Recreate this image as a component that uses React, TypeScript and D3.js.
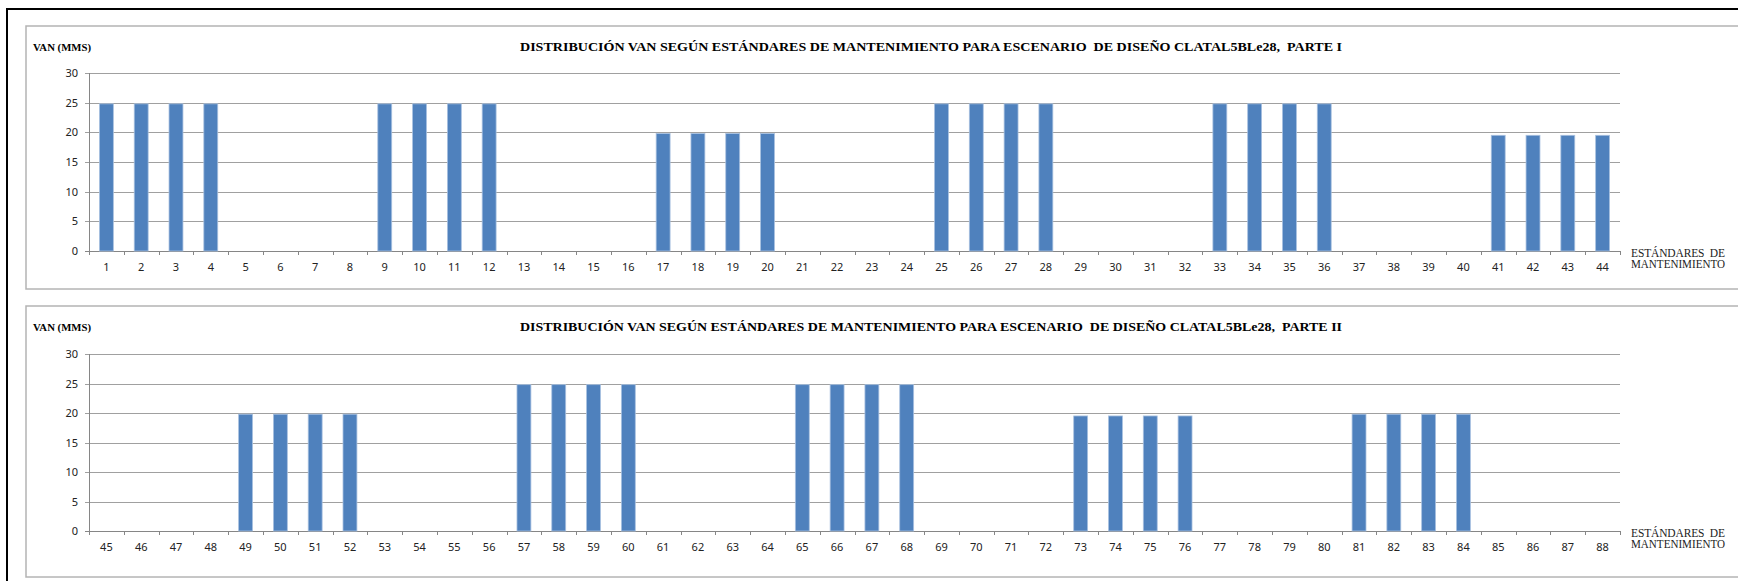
import React from "react";
import * as d3 from "d3";

// Maintenance standards (x categories) for each part
const categoriesPart1: number[] = [
  1, 2, 3, 4, 5, 6, 7, 8, 9, 10, 11, 12, 13, 14, 15, 16, 17, 18, 19, 20, 21, 22,
  23, 24, 25, 26, 27, 28, 29, 30, 31, 32, 33, 34, 35, 36, 37, 38, 39, 40, 41, 42,
  43, 44,
];
const categoriesPart2: number[] = [
  45, 46, 47, 48, 49, 50, 51, 52, 53, 54, 55, 56, 57, 58, 59, 60, 61, 62, 63, 64,
  65, 66, 67, 68, 69, 70, 71, 72, 73, 74, 75, 76, 77, 78, 79, 80, 81, 82, 83, 84,
  85, 86, 87, 88,
];

// VAN (MMS) per standard
const vanPart1: number[] = [
  24.8, 24.8, 24.8, 24.8, 0, 0, 0, 0, 24.8, 24.8, 24.8, 24.8, 0, 0, 0, 0,
  19.8, 19.8, 19.8, 19.8, 0, 0, 0, 0, 24.8, 24.8, 24.8, 24.8, 0, 0, 0, 0,
  24.8, 24.8, 24.8, 24.8, 0, 0, 0, 0, 19.5, 19.5, 19.5, 19.5,
];
const vanPart2: number[] = [
  0, 0, 0, 0, 19.8, 19.8, 19.8, 19.8, 0, 0, 0, 0, 24.8, 24.8, 24.8, 24.8,
  0, 0, 0, 0, 24.8, 24.8, 24.8, 24.8, 0, 0, 0, 0, 19.5, 19.5, 19.5, 19.5,
  0, 0, 0, 0, 19.8, 19.8, 19.8, 19.8, 0, 0, 0, 0,
];

const yTicks: number[] = [0, 5, 10, 15, 20, 25, 30];

const titlePart1 =
  "DISTRIBUCIÓN VAN SEGÚN ESTÁNDARES DE MANTENIMIENTO PARA ESCENARIO  DE DISEÑO CLATAL5BLe28,  PARTE I";
const titlePart2 =
  "DISTRIBUCIÓN VAN SEGÚN ESTÁNDARES DE MANTENIMIENTO PARA ESCENARIO  DE DISEÑO CLATAL5BLe28,  PARTE II";

const W = 1738;
const H = 581;
const SERIF = "'Liberation Serif', 'Times New Roman', serif";
const SANS = "'Noto Sans', 'Open Sans', sans-serif";
const PRE = { whiteSpace: "pre" as const };

type PanelProps = {
  top: number;
  bottom: number;
  yTop: number;
  yZero: number;
  categories: number[];
  values: number[];
  title: string;
};

function Panel({ top, bottom, yTop, yZero, categories, values, title }: PanelProps) {
  const x0 = 89;
  const x1 = 1620;
  const x = d3
    .scaleBand<number>()
    .domain(categories)
    .range([x0, x1])
    .paddingInner(0.6)
    .paddingOuter(0.3);
  const y = d3.scaleLinear().domain([0, 30]).range([yZero, yTop]);
  const step = x.step();
  const boundaries = d3.range(categories.length + 1).map((i) => x0 + i * step);

  return (
    <g>
      {/* chart frame */}
      <rect
        x={26}
        y={top}
        width={W}
        height={bottom - top}
        fill="#ffffff"
        stroke="#b4b4b4"
        strokeWidth={1.5}
      />
      <text
        x={931}
        y={top + 25}
        textAnchor="middle"
        fontFamily={SERIF}
        fontWeight="bold"
        fontSize={12.5}
        textLength={822}
        lengthAdjust="spacingAndGlyphs"
        fill="#000"
        style={PRE}
      >
        {title}
      </text>
      <text
        x={33}
        y={top + 25}
        fontFamily={SERIF}
        fontWeight="bold"
        fontSize={11}
        textLength={58}
        lengthAdjust="spacingAndGlyphs"
        fill="#000"
      >
        VAN (MMS)
      </text>

      {/* gridlines */}
      {yTicks.map((t) => (
        <line
          key={`g${t}`}
          x1={x0 - 4}
          x2={x1}
          y1={Math.round(y(t)) + 0.5}
          y2={Math.round(y(t)) + 0.5}
          stroke={t === 0 ? "#868686" : "#a0a0a0"}
          strokeWidth={1}
        />
      ))}
      {yTicks.map((t) => (
        <text
          key={`yl${t}`}
          x={78}
          y={y(t) + 4}
          textAnchor="end"
          fontFamily={SANS}
          fontSize={11}
          fill="#222"
        >
          {t}
        </text>
      ))}
      <line x1={x0 + 0.5} x2={x0 + 0.5} y1={yTop} y2={yZero} stroke="#868686" strokeWidth={1} />

      {/* bars */}
      {categories.map((c, i) =>
        values[i] > 0 ? (
          <rect
            key={`b${c}`}
            x={x(c)!}
            y={y(values[i])}
            width={x.bandwidth()}
            height={yZero - y(values[i])}
            fill="#4f81bd"
            stroke="#a9c1e0"
            strokeWidth={0.8}
          />
        ) : null
      )}

      {/* category ticks and labels */}
      {boundaries.map((bx, i) => (
        <line
          key={`t${i}`}
          x1={Math.round(bx) + 0.5}
          x2={Math.round(bx) + 0.5}
          y1={yZero}
          y2={yZero + 4}
          stroke="#868686"
          strokeWidth={1}
        />
      ))}
      {categories.map((c) => (
        <text
          key={`xl${c}`}
          x={x(c)! + x.bandwidth() / 2}
          y={yZero + 20}
          textAnchor="middle"
          fontFamily={SANS}
          fontSize={11}
          fill="#222"
        >
          {c}
        </text>
      ))}

      <text
        x={1631}
        y={yZero + 6}
        fontFamily={SERIF}
        fontSize={11.5}
        textLength={94}
        lengthAdjust="spacing"
        fill="#222"
        style={PRE}
      >
        ESTÁNDARES  DE
      </text>
      <text
        x={1631}
        y={yZero + 17}
        fontFamily={SERIF}
        fontSize={11.5}
        textLength={94}
        lengthAdjust="spacingAndGlyphs"
        fill="#222"
      >
        MANTENIMIENTO
      </text>
    </g>
  );
}

export default function App() {
  return (
    <svg
      width={W}
      height={H}
      style={{ position: "absolute", left: 0, top: 0, background: "#fff" }}
    >
      <rect x={0} y={0} width={W} height={H} fill="#ffffff" />
      <Panel
        top={26}
        bottom={289}
        yTop={73}
        yZero={251}
        categories={categoriesPart1}
        values={vanPart1}
        title={titlePart1}
      />
      <Panel
        top={306}
        bottom={577}
        yTop={354}
        yZero={531}
        categories={categoriesPart2}
        values={vanPart2}
        title={titlePart2}
      />
      {/* outer border */}
      <path d={`M7,${H} L7,9 L${W},9`} fill="none" stroke="#000" strokeWidth={2} />
    </svg>
  );
}
